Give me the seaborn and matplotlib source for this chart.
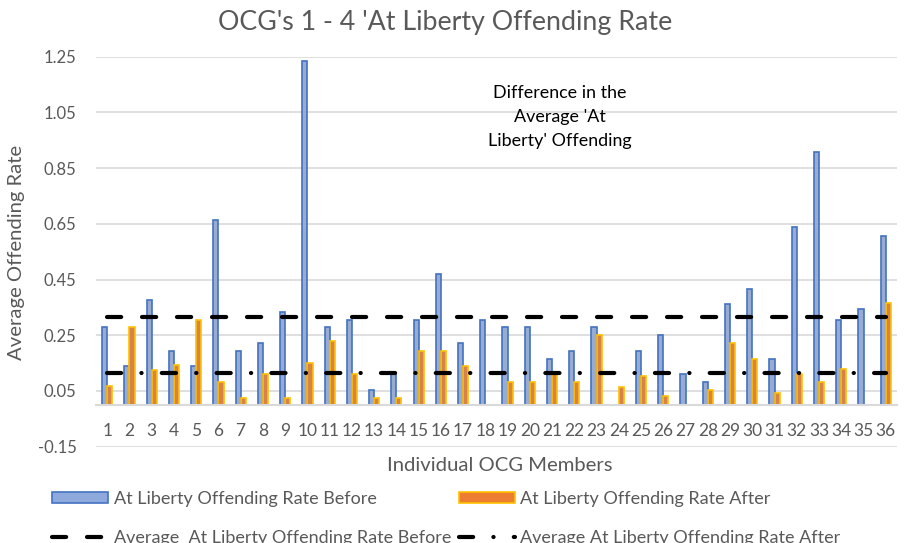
import matplotlib
matplotlib.use("Agg")
import matplotlib.pyplot as plt
from matplotlib.patches import Patch
from matplotlib.lines import Line2D
import seaborn as sns
import pandas as pd
import numpy as np

# data
members = [str(i) for i in range(1, 37)]
rate_before = [0.278, 0.139, 0.375, 0.194, 0.139, 0.665, 0.194, 0.222, 0.333, 1.233,
               0.278, 0.304, 0.055, 0.110, 0.304, 0.471, 0.222, 0.304, 0.278, 0.278,
               0.166, 0.194, 0.278, 0.0, 0.194, 0.250, 0.110, 0.082, 0.361, 0.416,
               0.166, 0.639, 0.908, 0.304, 0.344, 0.605]
rate_after = [0.068, 0.280, 0.124, 0.142, 0.304, 0.082, 0.026, 0.110, 0.026, 0.150,
              0.230, 0.110, 0.026, 0.026, 0.194, 0.194, 0.139, 0.0, 0.082, 0.082,
              0.110, 0.082, 0.250, 0.064, 0.103, 0.032, 0.0, 0.055, 0.222, 0.166,
              0.043, 0.110, 0.082, 0.130, 0.0, 0.364]
avg_before = 0.316
avg_after = 0.116
y_ticks = [-0.15, 0.05, 0.25, 0.45, 0.65, 0.85, 1.05, 1.25]

lbl_before = "At Liberty Offending Rate Before"
lbl_after = "At Liberty Offending Rate After"
lbl_avg_before = "Average  At Liberty Offending Rate Before"
lbl_avg_after = "Average At Liberty Offending Rate After"

df = pd.DataFrame({
    "member": members * 2,
    "rate": rate_before + rate_after,
    "series": [lbl_before] * len(members) + [lbl_after] * len(members),
})

sns.set_style("white")
plt.rcParams["font.family"] = ["Lato", "DejaVu Sans"]

GREY = "#595959"
BLUE_FILL, BLUE_EDGE = "#8EA9DB", "#4472C4"
ORANGE_FILL, ORANGE_EDGE = "#ED7D31", "#FFC000"
DASH_BEFORE = (3.4, 5.0)
DASH_AFTER = (3.4, 4.85, 0.05, 4.85)

fig = plt.figure(figsize=(9.06, 5.43), dpi=100)
ax = fig.add_axes([0.106, 0.1774, 0.884, 0.7182])

sns.barplot(data=df, x="member", y="rate", hue="series",
            palette=[BLUE_FILL, ORANGE_FILL], width=0.46, gap=0,
            linewidth=1.2, ax=ax, legend=False)
edges = [BLUE_EDGE] * len(members) + [ORANGE_EDGE] * len(members)
for bar, ec in zip(ax.patches, edges):
    bar.set_edgecolor(ec)

xs = np.arange(len(members))
ax.plot(xs, np.full(len(members), avg_before), color="black", linewidth=3,
        dashes=DASH_BEFORE, dash_capstyle="round", zorder=7)
ax.plot(xs, np.full(len(members), avg_after), color="black", linewidth=3,
        dashes=DASH_AFTER, dash_capstyle="round", zorder=7)

ax.set_ylim(-0.15, 1.25)
ax.set_xlim(-0.5, len(members) - 0.5)
ax.set_yticks(y_ticks)
ax.set_yticklabels([f"{t:.2f}" for t in y_ticks])
ax.grid(axis="y", color="#D9D9D9", linewidth=1.2)
ax.set_axisbelow(True)
for s in ["top", "right", "left"]:
    ax.spines[s].set_visible(False)
ax.spines["bottom"].set_position(("data", 0))
ax.spines["bottom"].set_color("#D9D9D9")
ax.spines["bottom"].set_linewidth(1.5)
ax.spines["bottom"].set_zorder(6)
ax.tick_params(axis="x", length=0, pad=13, labelsize=12.5, colors=GREY)
ax.tick_params(axis="y", length=0, pad=14, labelsize=12, colors=GREY)

ax.set_xlabel("")
ax.set_ylabel("")
fig.text(17 / 906, 0.535, "Average Offending Rate", fontsize=14.6, color=GREY,
         rotation=90, ha="center", va="center")
fig.text(0.552, 0.142, "Individual OCG Members", fontsize=14.6, color=GREY,
         ha="center", va="center")
fig.text(0.491, 0.958, "OCG's 1 - 4 'At Liberty Offending Rate", fontsize=19.3,
         color=GREY, ha="center", va="center")

ax.text(0.579, 0.846, "Difference in the\nAverage 'At\nLiberty' Offending",
        transform=ax.transAxes, ha="center", va="center", fontsize=12.9,
        color="black", linespacing=1.62)

handles = [
    Patch(facecolor=BLUE_FILL, edgecolor=BLUE_EDGE, linewidth=1.2),
    Line2D([], [], color="black", linewidth=3, dashes=DASH_BEFORE, dash_capstyle="round"),
    Patch(facecolor=ORANGE_FILL, edgecolor=ORANGE_EDGE, linewidth=1.2),
    Line2D([], [], color="black", linewidth=3, dashes=DASH_AFTER, dash_capstyle="round"),
]
labels = [lbl_before, lbl_avg_before, lbl_after, lbl_avg_after]
leg = fig.legend(handles, labels, ncol=2, loc="upper left",
                 bbox_to_anchor=(52 / 906, 0.096), frameon=False, fontsize=13,
                 handlelength=3.1, handleheight=0.6, handletextpad=0.33,
                 columnspacing=0.4, labelspacing=1.28, borderaxespad=0, borderpad=0)
for t in leg.get_texts():
    t.set_color(GREY)

fig.savefig("out.png", dpi=100)
